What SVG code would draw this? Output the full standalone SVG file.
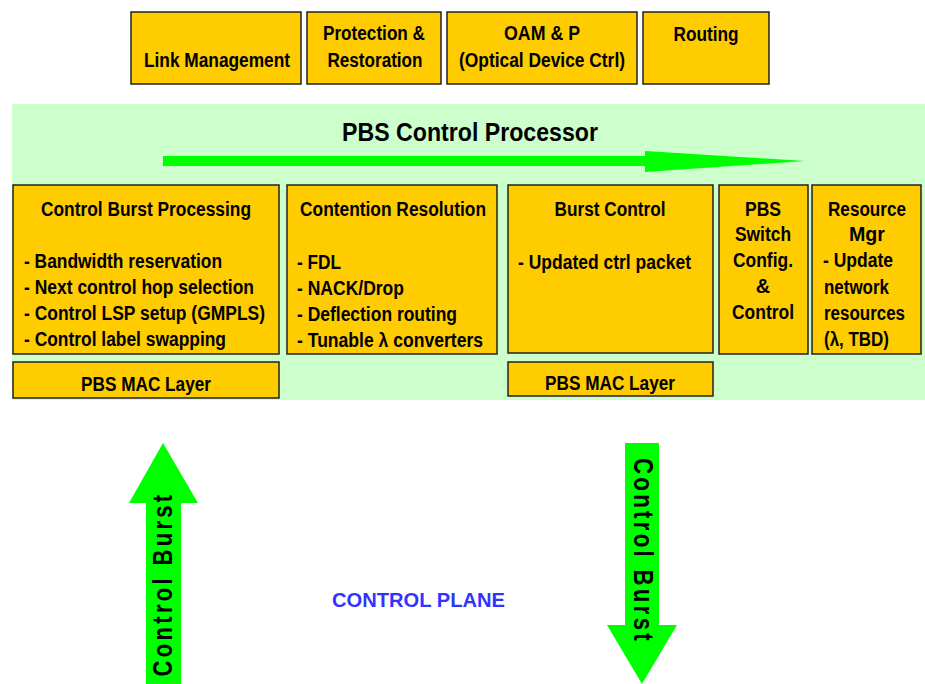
<svg xmlns="http://www.w3.org/2000/svg" width="925" height="684" viewBox="0 0 925 684">
  <style>
    .box { fill: #FFCC00; stroke: #222; stroke-width: 1.5; }
    .t { font-family: "Liberation Sans", Arial, sans-serif; font-weight: bold; font-size: 20px; fill: #000; }
    .c { text-anchor: middle; }
    .arrow { fill: #00FF00; }
    .vt { font-family: "Liberation Sans", Arial, sans-serif; font-weight: bold; font-size: 27px; letter-spacing: 4px; fill: #000; text-anchor: middle; }
  </style>

  <!-- upper function blocks -->
  <g id="link-management">
    <rect class="box" x="131" y="12" width="170" height="72"/>
    <text class="t c" x="217" y="67" textLength="146" lengthAdjust="spacingAndGlyphs">Link Management</text>
  </g>
  <g id="protection-restoration">
    <rect class="box" x="307" y="12" width="134" height="72"/>
    <text class="t c" x="374" y="40" textLength="102" lengthAdjust="spacingAndGlyphs">Protection &amp;</text>
    <text class="t c" x="375" y="67" textLength="95" lengthAdjust="spacingAndGlyphs">Restoration</text>
  </g>
  <g id="oam-p">
    <rect class="box" x="447" y="12" width="190" height="72"/>
    <text class="t c" x="542" y="40" textLength="76" lengthAdjust="spacingAndGlyphs">OAM &amp; P</text>
    <text class="t c" x="542" y="67" textLength="166" lengthAdjust="spacingAndGlyphs">(Optical Device Ctrl)</text>
  </g>
  <g id="routing">
    <rect class="box" x="643" y="12" width="126" height="72"/>
    <text class="t c" x="706" y="41" textLength="65" lengthAdjust="spacingAndGlyphs">Routing</text>
  </g>

  <!-- control processor panel -->
  <g id="pbs-control-processor">
    <rect x="12" y="104" width="913" height="296" fill="#CCFFCC"/>
    <text class="t c" x="470" y="141" style="font-size:26px" textLength="256" lengthAdjust="spacingAndGlyphs">PBS Control Processor</text>
  </g>

  <g id="control-burst-processing">
    <rect class="box" x="13" y="185" width="266" height="169"/>
    <text class="t c" x="146" y="216" textLength="210" lengthAdjust="spacingAndGlyphs">Control Burst Processing</text>
    <text class="t" x="24" y="268" textLength="198" lengthAdjust="spacingAndGlyphs">- Bandwidth reservation</text>
    <text class="t" x="24" y="294" textLength="230" lengthAdjust="spacingAndGlyphs">- Next control hop selection</text>
    <text class="t" x="24" y="320" textLength="241" lengthAdjust="spacingAndGlyphs">- Control LSP setup (GMPLS)</text>
    <text class="t" x="24" y="346" textLength="202" lengthAdjust="spacingAndGlyphs">- Control label swapping</text>
  </g>
  <g id="contention-resolution">
    <rect class="box" x="287" y="185" width="210" height="169"/>
    <text class="t c" x="393" y="216" textLength="186" lengthAdjust="spacingAndGlyphs">Contention Resolution</text>
    <text class="t" x="297" y="269" textLength="44" lengthAdjust="spacingAndGlyphs">- FDL</text>
    <text class="t" x="297" y="295" textLength="107" lengthAdjust="spacingAndGlyphs">- NACK/Drop</text>
    <text class="t" x="297" y="321" textLength="160" lengthAdjust="spacingAndGlyphs">- Deflection routing</text>
    <text class="t" x="297" y="347" textLength="186" lengthAdjust="spacingAndGlyphs">- Tunable λ converters</text>
  </g>
  <g id="burst-control">
    <rect class="box" x="508" y="185" width="205" height="168"/>
    <text class="t c" x="610" y="216" textLength="111" lengthAdjust="spacingAndGlyphs">Burst Control</text>
    <text class="t" x="518" y="269" textLength="173" lengthAdjust="spacingAndGlyphs">- Updated ctrl packet</text>
  </g>
  <g id="pbs-switch-config">
    <rect class="box" x="719" y="185" width="89" height="169"/>
    <text class="t c" x="763" y="216" textLength="36" lengthAdjust="spacingAndGlyphs">PBS</text>
    <text class="t c" x="763" y="241" textLength="56" lengthAdjust="spacingAndGlyphs">Switch</text>
    <text class="t c" x="763" y="267" textLength="60" lengthAdjust="spacingAndGlyphs">Config.</text>
    <text class="t c" x="763" y="293">&amp;</text>
    <text class="t c" x="763" y="319" textLength="62" lengthAdjust="spacingAndGlyphs">Control</text>
  </g>
  <g id="resource-mgr">
    <rect class="box" x="812" y="185" width="109" height="169"/>
    <text class="t c" x="867" y="216" textLength="78" lengthAdjust="spacingAndGlyphs">Resource</text>
    <text class="t c" x="867" y="241" textLength="36" lengthAdjust="spacingAndGlyphs">Mgr</text>
    <text class="t" x="823" y="267" textLength="70" lengthAdjust="spacingAndGlyphs">- Update</text>
    <text class="t" x="824" y="294" textLength="65" lengthAdjust="spacingAndGlyphs">network</text>
    <text class="t" x="824" y="320" textLength="81" lengthAdjust="spacingAndGlyphs">resources</text>
    <text class="t" x="824" y="346" textLength="65" lengthAdjust="spacingAndGlyphs">(λ, TBD)</text>
  </g>
  <g id="mac-layer-left">
    <rect class="box" x="13" y="362" width="266" height="36"/>
    <text class="t c" x="146" y="391" textLength="130" lengthAdjust="spacingAndGlyphs">PBS MAC Layer</text>
  </g>
  <g id="mac-layer-right">
    <rect class="box" x="508" y="362" width="205" height="34"/>
    <text class="t c" x="610" y="390" textLength="130" lengthAdjust="spacingAndGlyphs">PBS MAC Layer</text>
  </g>

  <!-- flow arrows -->
  <g id="connectors">
    <polygon class="arrow" points="163,156 645,156 645,151 805,161 645,172 645,166 163,166"/>
    <polygon class="arrow" points="163,443 198,503 181,503 181,684 146,684 146,503 129,503"/>
    <polygon class="arrow" points="625,443 659,443 659,625 677,625 642,684 607,625 625,625"/>
  </g>

  <g id="control-burst-up">
    <text class="vt" transform="translate(172,584) rotate(-90)" textLength="185" lengthAdjust="spacingAndGlyphs">Control Burst</text>
  </g>
  <g id="control-burst-down">
    <text class="vt" transform="translate(634,551) rotate(90)" textLength="186" lengthAdjust="spacingAndGlyphs">Control Burst</text>
  </g>

  <g id="control-plane">
    <text class="t" x="332" y="607" style="fill:#3333FF" textLength="173" lengthAdjust="spacingAndGlyphs">CONTROL PLANE</text>
  </g>
</svg>
